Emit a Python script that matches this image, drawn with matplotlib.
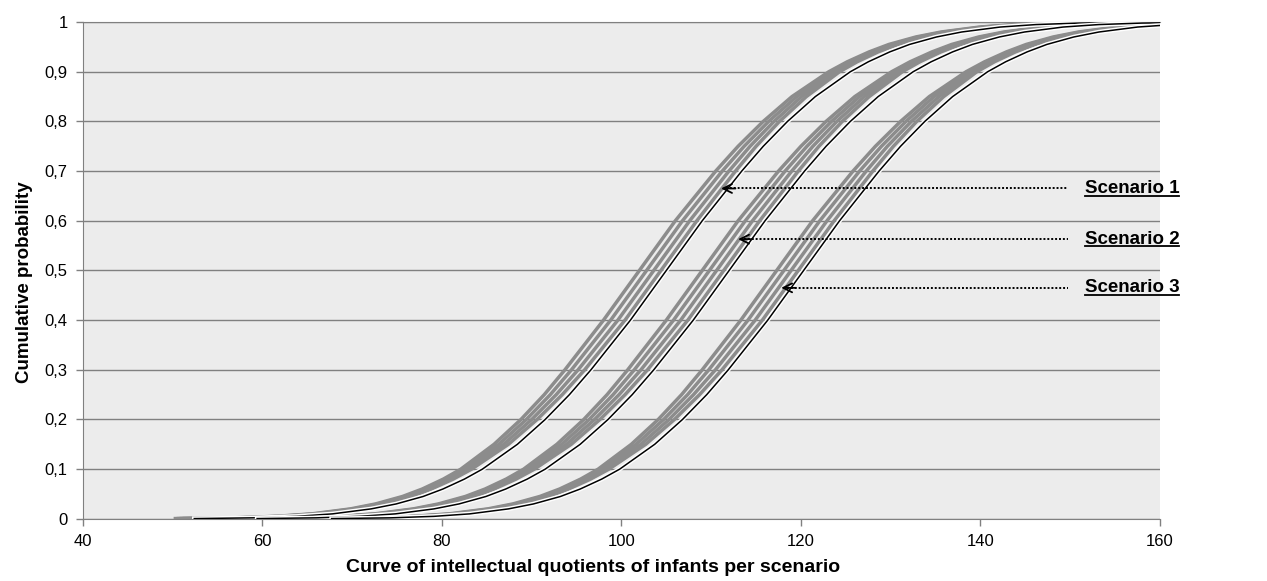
import matplotlib
matplotlib.use("Agg")
import numpy as np
import matplotlib.pyplot as plt
import matplotlib.patheffects as pe
from matplotlib.lines import Line2D

plt.rcParams['font.family'] = ['Liberation Sans', 'DejaVu Sans']

# cumulative probability levels at which the curves were read
prob = [0.0005, 0.002, 0.005, 0.01, 0.02, 0.03, 0.045, 0.06, 0.08, 0.1,
        0.15, 0.2, 0.25, 0.3, 0.4, 0.5, 0.6, 0.7, 0.75, 0.8,
        0.85, 0.9, 0.92, 0.94, 0.955, 0.97, 0.98, 0.99, 0.995, 0.998, 0.9995]

# IQ where the black (reference) curve of each scenario reaches those levels
s1_black = [52.4, 59.0, 63.8, 67.8, 72.1, 74.9, 77.9, 80.1, 82.5, 84.5,
            88.4, 91.5, 94.2, 96.6, 101.0, 105.0, 109.0, 113.4, 115.8, 118.5,
            121.6, 125.5, 127.5, 129.9, 132.1, 135.1, 137.9, 142.2, 146.2, 151.0, 157.6]
s2_black = [59.4, 66.0, 70.8, 74.8, 79.1, 81.9, 84.9, 87.1, 89.5, 91.5,
            95.4, 98.5, 101.2, 103.6, 108.0, 112.0, 116.0, 120.4, 122.8, 125.5,
            128.6, 132.5, 134.5, 136.9, 139.1, 142.1, 144.9, 149.2, 153.2, 158.0, 164.6]
s3_black = [67.7, 74.3, 79.1, 83.1, 87.4, 90.2, 93.2, 95.4, 97.8, 99.8,
            103.7, 106.8, 109.5, 111.9, 116.3, 120.3, 124.3, 128.7, 131.1, 133.8,
            136.9, 140.8, 142.8, 145.2, 147.4, 150.4, 153.2, 157.5, 161.5, 166.3, 172.9]

# horizontal offset (IQ points) of the gray simulation curves left of the black one
gray_off_a = [-2.3, -2.3, -2.3, -2.3, -2.3, -2.3, -2.3, -2.3, -2.35, -2.4,
              -2.6, -2.7, -2.8, -2.9, -3.0, -3.0, -3.0, -2.9, -2.8, -2.7,
              -2.6, -2.4, -2.35, -2.3, -2.3, -2.3, -2.3, -2.3, -2.3, -2.3, -2.3]
gray_off_b = [-1.97, -1.97, -1.97, -1.97, -1.97, -1.97, -1.97, -1.97, -1.98, -2.0,
              -2.07, -2.1, -2.13, -2.17, -2.2, -2.2, -2.2, -2.17, -2.13, -2.1,
              -2.07, -2.0, -1.98, -1.97, -1.97, -1.97, -1.97, -1.97, -1.97, -1.97, -1.97]
gray_off_c = [-1.63, -1.63, -1.63, -1.63, -1.63, -1.63, -1.63, -1.63, -1.62, -1.6,
              -1.53, -1.5, -1.47, -1.43, -1.4, -1.4, -1.4, -1.43, -1.47, -1.5,
              -1.53, -1.6, -1.62, -1.63, -1.63, -1.63, -1.63, -1.63, -1.63, -1.63, -1.63]
gray_off_d = [-1.3, -1.3, -1.3, -1.3, -1.3, -1.3, -1.3, -1.3, -1.25, -1.2,
              -1.0, -0.9, -0.8, -0.7, -0.6, -0.6, -0.6, -0.7, -0.8, -0.9,
              -1.0, -1.2, -1.25, -1.3, -1.3, -1.3, -1.3, -1.3, -1.3, -1.3, -1.3]

# labels and the point on each black curve the arrow points to
scen_names = ['Scenario 1', 'Scenario 2', 'Scenario 3']
scen_tip_x = [111.1, 113.0, 117.8]
scen_tip_y = [0.665, 0.563, 0.465]

xticks = [40, 60, 80, 100, 120, 140, 160]
yticks = [0, 0.1, 0.2, 0.3, 0.4, 0.5, 0.6, 0.7, 0.8, 0.9, 1]
ytick_labels = ['0', '0,1', '0,2', '0,3', '0,4', '0,5', '0,6', '0,7', '0,8', '0,9', '1']

fig = plt.figure(figsize=(12.67, 5.81), dpi=100)
ax = fig.add_axes([0.0655, 0.107, 0.85, 0.855])
ax.set_facecolor('#ececec')

for b in [s1_black, s2_black, s3_black]:
    for off in [gray_off_a, gray_off_b, gray_off_c, gray_off_d]:
        ax.plot(np.array(b) + np.array(off), prob, color='#8c8c8c', lw=2.5,
                solid_capstyle='butt', zorder=3)

for b in [s1_black, s2_black, s3_black]:
    ax.plot(b, prob, color='black', lw=1.1, zorder=4,
            path_effects=[pe.withStroke(linewidth=3.2, foreground='white')])

ax.set_xlim(40, 160)
ax.set_ylim(0, 1)
ax.set_xticks(xticks)
ax.set_yticks(yticks)
ax.set_yticklabels(ytick_labels)
ax.tick_params(axis='both', labelsize=12, color='#808080', length=5, width=1, pad=6)
ax.grid(axis='y', color='#808080', lw=1)
ax.set_axisbelow(True)
ax.spines['right'].set_visible(False)
for s in ['top', 'left', 'bottom']:
    ax.spines[s].set_color('#808080')

ax.set_xlabel('Curve of intellectual quotients of infants per scenario',
              fontsize=14, fontweight='bold', labelpad=7, x=0.474)
ax.set_ylabel('Cumulative probability', fontsize=13.5, fontweight='bold',
              labelpad=8, y=0.476)

texts = []
for name, tx, ty in zip(scen_names, scen_tip_x, scen_tip_y):
    ax.plot([tx + 0.6, 149.7], [ty, ty], color='black', lw=1.4,
            linestyle=(0, (1, 1)), zorder=5)
    ax.annotate('', xy=(tx, ty), xytext=(tx + 1.6, ty),
                arrowprops=dict(arrowstyle='->', color='black', lw=1.3,
                                mutation_scale=16, shrinkA=0, shrinkB=0),
                zorder=6)
    t = ax.text(151.6, ty, name, fontsize=13.5, fontweight='bold',
                ha='left', va='center', zorder=6)
    texts.append(t)

# underline the scenario labels
fig.canvas.draw()
r = fig.canvas.get_renderer()
for t in texts:
    bb = t.get_window_extent(r).transformed(fig.transFigure.inverted())
    fig.add_artist(Line2D([bb.x0, bb.x1], [bb.y0 + 0.002, bb.y0 + 0.002],
                          color='black', lw=1.3))

fig.savefig('out.png', dpi=100)
